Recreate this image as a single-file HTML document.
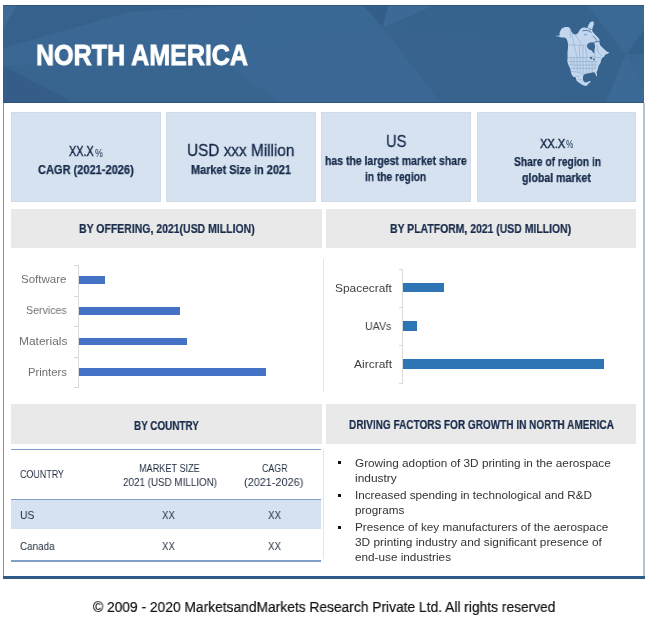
<!DOCTYPE html>
<html><head><meta charset="utf-8"><style>
html,body{margin:0;padding:0;background:#fff;}
body{width:650px;height:620px;position:relative;overflow:hidden;font-family:"Liberation Sans",sans-serif;}
body>div{position:absolute;}
.t{white-space:pre;transform-origin:0 0;will-change:transform;}
</style></head><body>
<svg style="position:absolute;left:3px;top:5px" width="641" height="98" viewBox="0 0 641 98">
<rect width="641" height="98" fill="#3a6691"/>
<g transform="translate(-3,-5)">
<polygon points="3,5 17,5 3,30" fill="rgb(61,106,150)"/>
<polygon points="17,5 245,5 130,12 3,48 3,30" fill="rgb(54,97,140)"/>
<polygon points="3,48 130,12 245,5 238,55 3,66" fill="rgb(58,103,147)"/>
<polygon points="3,66 238,55 230,68 282,103 75,103" fill="rgb(56,101,144)"/>
<polygon points="3,66 75,103 3,103" fill="rgb(52,94,137)"/>
<polygon points="245,5 363,5 383,27.7 238,55" fill="rgb(58,104,148)"/>
<polygon points="363,5 388,5 383,27.7" fill="rgb(51,94,138)"/>
<polygon points="388,5 435,5 383,27.7" fill="rgb(60,105,149)"/>
<polygon points="435,5 560,5 560,47 383,27.7" fill="rgb(54,99,142)"/>
<polygon points="383,27.7 560,47 560,103 441,103" fill="rgb(55,99,142)"/>
<polygon points="238,55 383,27.7 441,103 282,103 230,68" fill="rgb(58,103,147)"/>
<polygon points="560,5 587,5 626,54 606,103 560,103" fill="rgb(54,99,142)"/>
<polygon points="587,5 644,5 644,30 626,54" fill="rgb(59,105,149)"/>
<polygon points="644,30 644,54 626,54" fill="rgb(52,96,140)"/>
<polygon points="626,54 644,54 644,90" fill="rgb(57,102,146)"/>
<polygon points="626,54 644,90 644,103 606,103" fill="rgb(60,106,150)"/>
</g>

<rect x="0" y="0" width="641" height="1" fill="#2c5580" opacity="0.8"/>
<rect x="0" y="97" width="641" height="1" fill="#2a5380" opacity="0.8"/>
</svg>
<svg style="position:absolute;left:0;top:0" width="650" height="110" viewBox="0 0 650 110">
<g fill="#c2d6ed">
<path d="M555.9,35.4 L559.3,35.9 L559.8,32 L561.7,28.6 L565.1,27 L568.5,27 L569.9,28.2 L571.4,31.5 L573.3,34 L575.7,34.4 L577.7,33.5 L579.1,31.1 L581,28.6 L584,27.2 L587.4,28.2 L588.3,25.2 L590.3,22.1 L593.4,21.2 L593.9,24.2 L592.4,28.3 L592.2,31 L595.5,35 L598.1,37.6 L599.6,39.7 L599.2,41.8 L600.2,45.2 L602.2,47.2 L604.8,49.8 L606.8,51.4 L609.4,52.4 L607.9,53.7 L605.3,54.5 L604.3,56.5 L602.7,57.5 L601.2,59.6 L600.6,62.7 L598.6,65.8 L597.7,69.7 L596.5,72.6 L597.1,75 L596.8,76.7 L595.9,75 L594.7,72.6 L593,72.3 L590.1,72.9 L587.1,73.5 L584.8,74.1 L583.3,75.5 L582.8,78.5 L583.6,81.4 L585.4,82.6 L587.7,82 L589.5,81.1 L590.9,81.4 L590.1,82.6 L588.3,83.7 L587.1,85.5 L585.4,86.1 L582.5,84.9 L579.5,83.1 L576.6,80.8 L575.5,77.3 L573.1,76.7 L571.6,74.4 L570.8,71.5 L570.2,68.5 L568.4,65 L567.3,61.5 L567.6,58 L567.5,52 L568,48 L568,44.6 L567.5,41.2 L566.5,38.8 L564.6,37.4 L561.2,37.4 L559.3,36.8 L556.5,36.3 Z"/>
</g>
<g fill="#3a6691">
<path d="M587,44.8 L589,42.8 L592.5,42.2 L594.6,43.4 L595.1,47 L594.4,50.5 L594.7,53.6 L593,52.6 L591.6,50.4 L589,49.4 L587.2,47.6 Z"/>
<path d="M589.6,57.4 L591.5,56.8 L592.6,58.2 L591,59.5 Z M593,58.8 L594.6,58.2 L594.8,60.3 L593.4,60.4 Z"/>
</g>
<g stroke="#3f6b97" fill="none" stroke-width="0.9">
<path d="M593.2,43 L595.5,41.8 L598.8,41.4"/>
<path d="M582.5,30.8 L586.5,30.3 L589.5,31.2 L591.5,32.6"/>
<path d="M588.5,28.7 L591.6,29.5"/>
<path d="M592.6,36 L595.5,38.4 L596.5,40.6" stroke-width="0.7"/>
<path d="M584,35 L587,34.5" stroke-width="0.6"/>
</g>
<g stroke="#89a5c6" stroke-width="0.5" fill="none">
<path d="M570.2,28 L570.4,38"/>
<path d="M571.5,32.5 L574,44"/>
<path d="M575.5,35 L582,45"/>
<path d="M568,44.8 L587.5,45.5"/>
<path d="M574,44 L577,57.6 M579.5,45 L579.5,57.6 M583,45 L583,57.6 M585.5,47 L587,57.3 M594.5,50 L595,58"/>
<path d="M567.6,57.6 L589,57.6 L592,56 L596,57.5 L601,57.5"/>
<path d="M568.5,61.5 L597.5,61.5 M569,65 L597,65 M570.5,68.4 L596,68.4"/>
<path d="M571,57.6 L571.5,64.5 M574,57.6 L574,69 M577,57.6 L577.3,71.5 M580,57.6 L580,72.5 M583,57.6 L583.2,74 M586,57.6 L586.3,73.5 M589,60 L589.2,73 M592,61 L592.2,72.4 M595,61.5 L595,68.4"/>
<path d="M570.8,71.4 L576,71.8 L580,73 L583.5,74.8"/>
<path d="M575.5,76 L580,76.5 M578,79.5 L582.8,80"/>
<path d="M597,45 L598,52 L602,56"/>
</g>
</svg>

<div style="left:3px;top:103px;width:1.00px;height:474.00px;background:#7f95ae;"></div>
<div style="left:643px;top:103px;width:1.50px;height:474.00px;background:#b6c3d1;"></div>
<div style="left:3px;top:576px;width:641.50px;height:3.00px;background:#2f5b8a;"></div>
<div style="left:10.5px;top:112px;width:150.00px;height:90.00px;background:#d6e2f0;box-shadow:inset 0 0 0 1px #cfdbe9;"></div>
<div style="left:166px;top:112px;width:150.00px;height:90.00px;background:#d6e2f0;box-shadow:inset 0 0 0 1px #cfdbe9;"></div>
<div style="left:321px;top:112px;width:150.00px;height:90.00px;background:#d6e2f0;box-shadow:inset 0 0 0 1px #cfdbe9;"></div>
<div style="left:476.5px;top:112px;width:159.50px;height:90.00px;background:#d6e2f0;box-shadow:inset 0 0 0 1px #cfdbe9;"></div>
<div style="left:10.5px;top:208.7px;width:311.50px;height:38.90px;background:#e9e9e9;"></div>
<div style="left:325.5px;top:208.7px;width:310.50px;height:38.90px;background:#e9e9e9;"></div>
<div style="left:10.5px;top:404.3px;width:311.30px;height:39.70px;background:#e9e9e9;"></div>
<div style="left:325.8px;top:404.3px;width:310.20px;height:39.70px;background:#e9e9e9;"></div>
<div style="left:323.2px;top:258.7px;width:1.20px;height:133.60px;background:#e4e4e4;"></div>
<div style="left:78px;top:265px;width:1.00px;height:122.50px;background:#d9d9d9;"></div>
<div style="left:74px;top:265px;width:5.00px;height:1.00px;background:#d9d9d9;"></div>
<div style="left:74px;top:295.5px;width:5.00px;height:1.00px;background:#d9d9d9;"></div>
<div style="left:74px;top:326px;width:5.00px;height:1.00px;background:#d9d9d9;"></div>
<div style="left:74px;top:356.5px;width:5.00px;height:1.00px;background:#d9d9d9;"></div>
<div style="left:74px;top:387px;width:5.00px;height:1.00px;background:#d9d9d9;"></div>
<div style="left:79px;top:276.1px;width:26.00px;height:8.00px;background:#4472c4;"></div>
<div style="left:79px;top:307px;width:101.00px;height:7.80px;background:#4472c4;"></div>
<div style="left:79px;top:337.6px;width:108.30px;height:7.90px;background:#4472c4;"></div>
<div style="left:79px;top:368.3px;width:186.80px;height:7.70px;background:#4472c4;"></div>
<div style="left:402px;top:268.6px;width:1.00px;height:115.00px;background:#d9d9d9;"></div>
<div style="left:398.5px;top:268.6px;width:4.50px;height:1.00px;background:#d9d9d9;"></div>
<div style="left:398.5px;top:306.5px;width:4.50px;height:1.00px;background:#d9d9d9;"></div>
<div style="left:398.5px;top:344.7px;width:4.50px;height:1.00px;background:#d9d9d9;"></div>
<div style="left:398.5px;top:383.1px;width:4.50px;height:1.00px;background:#d9d9d9;"></div>
<div style="left:403px;top:282.9px;width:40.70px;height:9.60px;background:#2e75b6;"></div>
<div style="left:403px;top:321px;width:13.50px;height:9.70px;background:#2e75b6;"></div>
<div style="left:403px;top:359.2px;width:200.70px;height:9.80px;background:#2e75b6;"></div>
<div style="left:10.9px;top:499.5px;width:310.00px;height:29.10px;background:#d6e2f0;"></div>
<div style="left:10.9px;top:448.8px;width:310.00px;height:1.50px;background:#7f9fc6;"></div>
<div style="left:10.9px;top:498.6px;width:310.00px;height:1.50px;background:#7f9fc6;"></div>
<div style="left:10.9px;top:560px;width:310.00px;height:1.50px;background:#7f9fc6;"></div>
<div style="left:323px;top:449px;width:1.20px;height:109.50px;background:#e6e6e6;"></div>
<div style="left:337.5px;top:461px;width:3.00px;height:3.00px;background:#111;"></div>
<div style="left:337.5px;top:494px;width:3.00px;height:3.00px;background:#111;"></div>
<div style="left:337.5px;top:526px;width:3.00px;height:3.00px;background:#111;"></div>
<div class="t" style="left:35.60px;top:40.00px;font-size:30.15px;line-height:30.15px;font-weight:700;color:#ffffff;transform:scaleX(0.8311);-webkit-text-stroke:0.9px #ffffff">NORTH AMERICA</div>
<div class="t" style="left:69.40px;top:145.00px;font-size:13.88px;line-height:13.88px;font-weight:400;color:#172a4a;transform:scaleX(0.7826);-webkit-text-stroke:0.45px #172a4a">XX.X</div>
<div class="t" style="left:94.60px;top:148.00px;font-size:11.03px;line-height:11.03px;font-weight:400;color:#172a4a;transform:scaleX(0.8109)">%</div>
<div class="t" style="left:38.10px;top:164.00px;font-size:11.99px;line-height:11.99px;font-weight:700;color:#172a4a;transform:scaleX(0.9212);-webkit-text-stroke:0.25px #172a4a">CAGR (2021-2026)</div>
<div class="t" style="left:187.41px;top:142.00px;font-size:17.34px;line-height:17.34px;font-weight:400;color:#172a4a;transform:scaleX(0.8854);-webkit-text-stroke:0.3px #172a4a">USD xxx Million</div>
<div class="t" style="left:190.52px;top:164.00px;font-size:11.99px;line-height:11.99px;font-weight:700;color:#172a4a;transform:scaleX(0.9098);-webkit-text-stroke:0.25px #172a4a">Market Size in 2021</div>
<div class="t" style="left:385.95px;top:133.00px;font-size:17.30px;line-height:17.30px;font-weight:400;color:#172a4a;transform:scaleX(0.8467);-webkit-text-stroke:0.3px #172a4a">US</div>
<div class="t" style="left:324.65px;top:155.00px;font-size:11.99px;line-height:11.99px;font-weight:700;color:#172a4a;transform:scaleX(0.8729);-webkit-text-stroke:0.25px #172a4a">has the largest market share</div>
<div class="t" style="left:365.27px;top:171.00px;font-size:11.99px;line-height:11.99px;font-weight:700;color:#172a4a;transform:scaleX(0.8508);-webkit-text-stroke:0.25px #172a4a">in the region</div>
<div class="t" style="left:540.21px;top:137.00px;font-size:13.44px;line-height:13.44px;font-weight:400;color:#172a4a;transform:scaleX(0.8191);-webkit-text-stroke:0.45px #172a4a">XX.X</div>
<div class="t" style="left:566.00px;top:140.00px;font-size:10.45px;line-height:10.45px;font-weight:400;color:#172a4a;transform:scaleX(0.7889)">%</div>
<div class="t" style="left:513.56px;top:156.00px;font-size:11.99px;line-height:11.99px;font-weight:700;color:#172a4a;transform:scaleX(0.8546);-webkit-text-stroke:0.25px #172a4a">Share of region in</div>
<div class="t" style="left:522.10px;top:172.00px;font-size:11.99px;line-height:11.99px;font-weight:700;color:#172a4a;transform:scaleX(0.8833);-webkit-text-stroke:0.25px #172a4a">global market</div>
<div class="t" style="left:78.54px;top:223.00px;font-size:12.65px;line-height:12.65px;font-weight:700;color:#172a4a;transform:scaleX(0.8290);-webkit-text-stroke:0.2px #172a4a">BY OFFERING, 2021(USD MILLION)</div>
<div class="t" style="left:390.44px;top:223.00px;font-size:12.65px;line-height:12.65px;font-weight:700;color:#172a4a;transform:scaleX(0.8254);-webkit-text-stroke:0.2px #172a4a">BY PLATFORM, 2021 (USD MILLION)</div>
<div class="t" style="left:134.37px;top:420.00px;font-size:12.65px;line-height:12.65px;font-weight:700;color:#172a4a;transform:scaleX(0.7823);-webkit-text-stroke:0.2px #172a4a">BY COUNTRY</div>
<div class="t" style="left:349.46px;top:419.00px;font-size:12.65px;line-height:12.65px;font-weight:700;color:#172a4a;transform:scaleX(0.7923);-webkit-text-stroke:0.2px #172a4a">DRIVING FACTORS FOR GROWTH IN NORTH AMERICA</div>
<div class="t" style="left:20.74px;top:274.00px;font-size:10.72px;line-height:10.72px;font-weight:400;color:#707070;transform:scaleX(1.0729)">Software</div>
<div class="t" style="left:25.71px;top:305.00px;font-size:10.72px;line-height:10.72px;font-weight:400;color:#707070;transform:scaleX(0.9877)">Services</div>
<div class="t" style="left:18.83px;top:336.00px;font-size:10.72px;line-height:10.72px;font-weight:400;color:#707070;transform:scaleX(1.1133)">Materials</div>
<div class="t" style="left:27.98px;top:367.00px;font-size:10.72px;line-height:10.72px;font-weight:400;color:#707070;transform:scaleX(1.0558)">Printers</div>
<div class="t" style="left:335.21px;top:283.00px;font-size:11.40px;line-height:11.40px;font-weight:400;color:#404040;transform:scaleX(1.0449)">Spacecraft</div>
<div class="t" style="left:365.08px;top:321.00px;font-size:11.40px;line-height:11.40px;font-weight:400;color:#404040;transform:scaleX(0.9327)">UAVs</div>
<div class="t" style="left:354.00px;top:359.00px;font-size:11.40px;line-height:11.40px;font-weight:400;color:#404040;transform:scaleX(1.0528)">Aircraft</div>
<div class="t" style="left:19.61px;top:469.00px;font-size:11.18px;line-height:11.18px;font-weight:400;color:#222e42;transform:scaleX(0.7979)">COUNTRY</div>
<div class="t" style="left:139.15px;top:463.00px;font-size:11.18px;line-height:11.18px;font-weight:400;color:#222e42;transform:scaleX(0.8169)">MARKET SIZE</div>
<div class="t" style="left:122.58px;top:477.00px;font-size:11.18px;line-height:11.18px;font-weight:400;color:#222e42;transform:scaleX(0.8804)">2021 (USD MILLION)</div>
<div class="t" style="left:261.61px;top:463.00px;font-size:11.18px;line-height:11.18px;font-weight:400;color:#222e42;transform:scaleX(0.7913)">CAGR</div>
<div class="t" style="left:244.09px;top:477.00px;font-size:11.18px;line-height:11.18px;font-weight:400;color:#222e42;transform:scaleX(0.9735)">(2021-2026)</div>
<div class="t" style="left:20.20px;top:510.00px;font-size:11.18px;line-height:11.18px;font-weight:400;color:#222e42;transform:scaleX(0.9334)">US</div>
<div class="t" style="left:162.18px;top:510.00px;font-size:11.18px;line-height:11.18px;font-weight:400;color:#222e42;transform:scaleX(0.8645)">XX</div>
<div class="t" style="left:267.78px;top:510.00px;font-size:11.18px;line-height:11.18px;font-weight:400;color:#222e42;transform:scaleX(0.8718)">XX</div>
<div class="t" style="left:20.46px;top:541.00px;font-size:11.18px;line-height:11.18px;font-weight:400;color:#222e42;transform:scaleX(0.8832)">Canada</div>
<div class="t" style="left:162.18px;top:541.00px;font-size:11.18px;line-height:11.18px;font-weight:400;color:#222e42;transform:scaleX(0.8645)">XX</div>
<div class="t" style="left:267.78px;top:541.00px;font-size:11.18px;line-height:11.18px;font-weight:400;color:#222e42;transform:scaleX(0.8718)">XX</div>
<div class="t" style="left:355.16px;top:458.00px;font-size:10.68px;line-height:10.68px;font-weight:400;color:#333333;transform:scaleX(1.1025)">Growing adoption of 3D printing in the aerospace</div>
<div class="t" style="left:354.99px;top:473.00px;font-size:10.68px;line-height:10.68px;font-weight:400;color:#333333;transform:scaleX(1.1180)">industry</div>
<div class="t" style="left:354.72px;top:490.00px;font-size:10.68px;line-height:10.68px;font-weight:400;color:#333333;transform:scaleX(1.0973)">Increased spending in technological and R&amp;D</div>
<div class="t" style="left:355.02px;top:505.00px;font-size:10.68px;line-height:10.68px;font-weight:400;color:#333333;transform:scaleX(1.0929)">programs</div>
<div class="t" style="left:354.84px;top:522.00px;font-size:10.68px;line-height:10.68px;font-weight:400;color:#333333;transform:scaleX(1.1005)">Presence of key manufacturers of the aerospace</div>
<div class="t" style="left:355.11px;top:537.00px;font-size:10.68px;line-height:10.68px;font-weight:400;color:#333333;transform:scaleX(1.1127)">3D printing industry and significant presence of</div>
<div class="t" style="left:355.22px;top:552.00px;font-size:10.68px;line-height:10.68px;font-weight:400;color:#333333;transform:scaleX(1.1009)">end-use industries</div>
<div class="t" style="left:93.00px;top:600.00px;font-size:14.49px;line-height:14.49px;font-weight:400;color:#111111;transform:scaleX(0.9522);-webkit-text-stroke:0.2px #111111">&copy; 2009 - 2020 MarketsandMarkets Research Private Ltd. All rights reserved</div>
</body></html>
